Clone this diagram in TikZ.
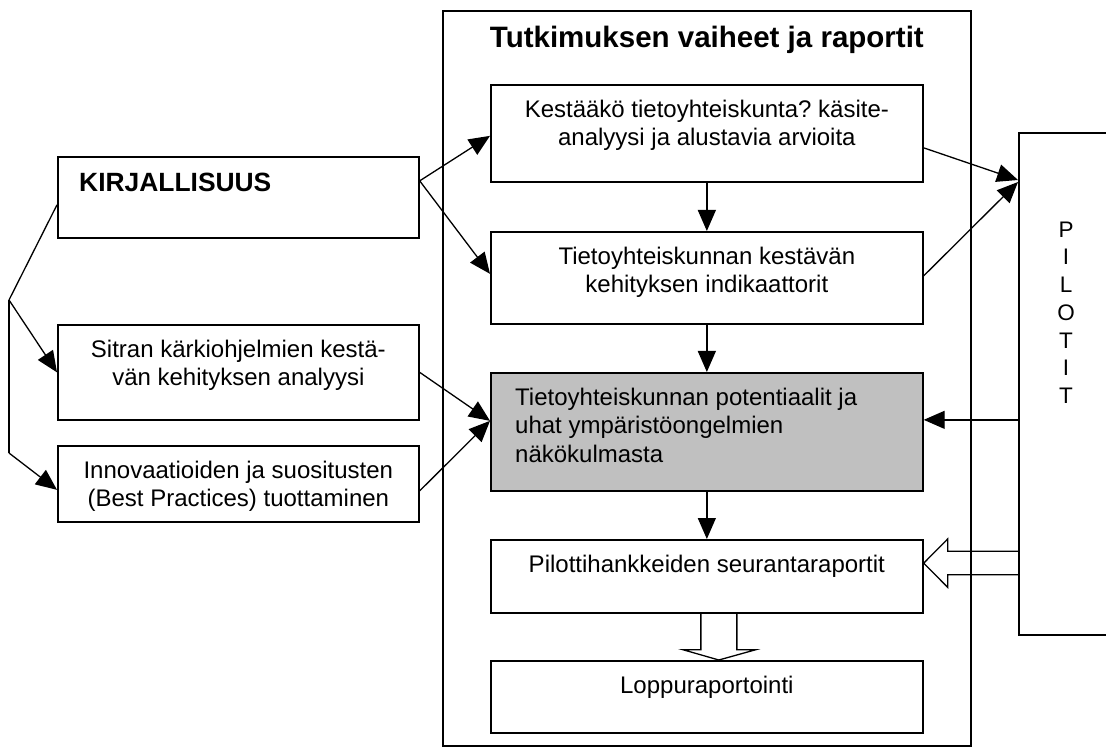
\documentclass[tikz,border=0pt]{standalone}
\usepackage{fontspec}
\setmainfont{Liberation Sans}
\usetikzlibrary{arrows.meta,calc}
\definecolor{boxgrey}{HTML}{C0C0C0}
\newcommand{\fl}{\rule{0pt}{24pt}}
\frenchspacing
\begin{document}
\begin{tikzpicture}[x=1pt,y=-1pt,
  box/.style={draw, line width=1.7pt, inner sep=0pt, anchor=north west},
  txt/.style={font=\fontsize{24}{28.5}\selectfont, align=center, anchor=north, inner sep=0pt},
  arr/.style={-{Triangle[length=21pt,width=18pt]}, line width=1.3pt},
  plain/.style={line width=1.3pt},
  hollow/.style={line width=1.3pt, line join=miter},
]
\useasboundingbox (0,0) rectangle (1106,751);
\clip (0,0) rectangle (1106,751);

% containers
\node[box, minimum width=528pt, minimum height=735pt] (main) at (442,10) {};
\node[box, minimum width=200pt, minimum height=502pt] (pil) at (1018,132) {};
\node[anchor=base, inner sep=0pt, font=\bfseries\fontsize{29.5}{34}\selectfont] (title) at ($(main.north)+(0,38)$) {Tutkimuksen vaiheet ja raportit};
\node[txt, font=\fontsize{22.5}{27.7}\selectfont] (pilt) at ($(pil.north west)+(48,85)$) {\rule{0pt}{20pt}P\\I\\L\\O\\T\\I\\T};

% left column
\node[box, minimum width=361pt, minimum height=81pt] (kir) at (57,156) {};
\node[anchor=base west, inner sep=0pt, font=\bfseries\fontsize{26.4}{30}\selectfont] (kirt) at ($(kir.north west)+(22,36)$) {KIRJALLISUUS};
\node[box, minimum width=361pt, minimum height=95pt] (sit) at (57,324) {};
\node[txt] (sitt) at ($(sit.north)+(0,9)$) {\fl Sitran kärkiohjelmien kestä-\\vän kehityksen analyysi};
\node[box, minimum width=361pt, minimum height=76pt] (inn) at (57,445) {};
\node[txt] (innt) at ($(inn.north)+(0,9)$) {\fl Innovaatioiden ja suositusten\\(Best Practices) tuottaminen};

% centre column
\node[box, minimum width=432pt, minimum height=97pt] (a) at (490,84) {};
\node[txt] (at) at ($(a.north)+(0,9)$) {\fl Kestääkö tietoyhteiskunta? käsite-\\analyysi ja alustavia arvioita};
\node[box, minimum width=432pt, minimum height=92pt] (b) at (490,231) {};
\node[txt] (bt) at ($(b.north)+(0,9)$) {\fl Tietoyhteiskunnan kestävän\\kehityksen indikaattorit};
\node[box, fill=boxgrey, minimum width=432pt, minimum height=118pt] (c) at (490,372) {};
\node[txt, align=left, anchor=north west] (ct) at ($(c.north west)+(25,9)$) {\fl Tietoyhteiskunnan potentiaalit ja\\uhat ympäristöongelmien\\näkökulmasta};
\node[box, minimum width=432pt, minimum height=73pt] (d) at (490,539) {};
\node[txt] (dt) at ($(d.north)+(0,9)$) {\fl Pilottihankkeiden seurantaraportit};
\node[box, minimum width=432pt, minimum height=72pt] (e) at (490,660) {};
\node[txt] (et) at ($(e.north)+(0,9)$) {\fl Loppuraportointi};

% bracket on the left
\coordinate (br) at (9,300);
\coordinate (br2) at (9,453);
\draw[plain] ($(kir.west)+(0,7.5)$) -- (br);
\draw[arr] (br) -- (sit.west);
\draw[plain] (br) -- (br2);
\draw[arr] (br2) -- ($(inn.west)+(0,6)$);

% KIRJALLISUUS to A and B
\draw[arr] ($(kir.east)+(0,-16.5)$) -- ($(a.west)+(0,2.5)$);
\draw[arr] ($(kir.east)+(0,-16.5)$) -- ($(b.west)+(0,-4)$);

% left boxes to grey box
\draw[arr] (sit.east) -- ($(c.west)+(0,-11)$);
\draw[arr] ($(inn.east)+(0,7)$) -- ($(c.west)+(0,-11)$);

% vertical chain
\draw[arr] (a.south) -- (b.north);
\draw[arr] (b.south) -- (c.north);
\draw[arr] (c.south) -- (d.north);

% to and from PILOTIT
\coordinate (pin) at ($(pil.north west)+(0,48)$);
\draw[arr] ($(a.east)+(0,14.5)$) -- (pin);
\draw[arr] ($(b.east)+(0,-2)$) -- ($(pin)+(0,2)$);
\draw[arr] ($(pil.west |- c.east)+(0,-12)$) -- ($(c.east)+(0,-12)$);

% hollow arrow PILOTIT -> D
\draw[hollow] ($(pil.west |- d.east)+(0,-25.2)$) -- ($(d.east)+(24,-25.2)$) -- ($(d.east)+(24,-37.4)$)
  -- ($(d.east)+(0,-13.2)$) -- ($(d.east)+(24,11)$) -- ($(d.east)+(24,-1.6)$) -- ($(pil.west |- d.east)+(0,-1.6)$);

% hollow arrow D -> E
\draw[hollow] ($(d.south)+(-6,0)$) -- ($(d.south)+(-6,36)$) -- ($(d.south)+(-24,36)$)
  -- ($(e.north)+(12,0)$) -- ($(d.south)+(49,36)$) -- ($(d.south)+(30,36)$) -- ($(d.south)+(30,0)$);
\end{tikzpicture}
\end{document}
